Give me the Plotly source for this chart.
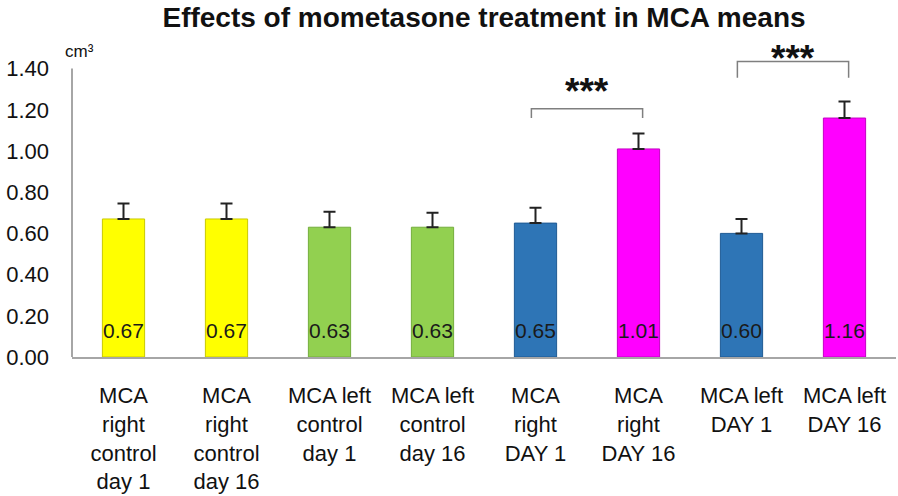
import plotly.graph_objects as go

categories = [
    "MCA<br>right<br>control<br>day 1",
    "MCA<br>right<br>control<br>day 16",
    "MCA left<br>control<br>day 1",
    "MCA left<br>control<br>day 16",
    "MCA<br>right<br>DAY 1",
    "MCA<br>right<br>DAY 16",
    "MCA left<br>DAY 1",
    "MCA left<br>DAY 16",
]
values = [0.67, 0.67, 0.63, 0.63, 0.65, 1.01, 0.60, 1.16]
errors = [0.075, 0.075, 0.075, 0.07, 0.075, 0.075, 0.07, 0.08]
colors = ["#ffff00", "#ffff00", "#92d050", "#92d050", "#2e75b6", "#ff00ff", "#2e75b6", "#ff00ff"]
edge_colors = ["#c9c900", "#c9c900", "#74ad3c", "#74ad3c", "#1f5a94", "#c400c4", "#1f5a94", "#c400c4"]
y_ticks = [0.0, 0.2, 0.4, 0.6, 0.8, 1.0, 1.2, 1.4]

# significance brackets: (left index, right index, bar height, leg length, star height, label)
brackets = [(4, 5, 1.205, 0.045, 1.319, "***"), (6, 7, 1.434, 0.078, 1.479, "***")]
label_y = 0.116

FONT = "Arial, Liberation Sans"
x_idx = list(range(len(categories)))

fig = go.Figure()
fig.add_trace(go.Bar(
    x=x_idx, y=values,
    marker=dict(color=colors, line=dict(color=edge_colors, width=1)),
    error_y=dict(type="data", array=errors, symmetric=False, arrayminus=[0] * len(values),
                 color="#222222", thickness=2, width=6),
    width=0.41,
    hoverinfo="skip",
))
fig.add_trace(go.Scatter(
    x=x_idx, y=[label_y] * len(values), mode="text",
    text=[f"{v:.2f}" for v in values],
    textfont=dict(family=FONT, size=21, color="#1a1a1a"),
    hoverinfo="skip",
))

shapes = [dict(type="line", xref="paper", yref="y", x0=0, x1=0, y0=0, y1=y_ticks[-1],
               line=dict(color="#a6a6a6", width=2))]
annotations = []
for a, b, h, leg, sy, lab in brackets:
    xa, xb = a - 0.04, b + 0.04
    shapes.append(dict(type="path", xref="x", yref="y",
                       path=f"M {xa} {h - leg} L {xa} {h} L {xb} {h} L {xb} {h - leg}",
                       line=dict(color="#7f7f7f", width=1.5)))
    annotations.append(dict(x=(a + b) / 2, y=sy, xref="x", yref="y", text=f"<b>{lab}</b>",
                            showarrow=False, yanchor="middle", yshift=-6,
                            font=dict(family=FONT, size=37, color="#111111")))
annotations.append(dict(x=-0.011, y=305 / 309, xref="paper", yref="paper", text="cm³",
                        showarrow=False, xanchor="left", yanchor="middle",
                        font=dict(family=FONT, size=17, color="#111111")))

fig.update_layout(
    width=898, height=496,
    margin=dict(l=72, r=2, t=48, b=139),
    paper_bgcolor="white", plot_bgcolor="white",
    showlegend=False,
    title=dict(text="<b>Effects of mometasone treatment in MCA means</b>",
               x=0.539, xanchor="center", y=0.966, yanchor="middle",
               font=dict(family=FONT, size=28, color="#111111")),
    xaxis=dict(tickmode="array", tickvals=x_idx, ticktext=categories, range=[-0.5, 7.5],
               showline=True, linecolor="#a6a6a6", linewidth=2, showgrid=False, zeroline=False,
               ticks="", ticklabelstandoff=18,
               tickfont=dict(family=FONT, size=22, color="#111111")),
    yaxis=dict(range=[0, 1.5], tickmode="array", tickvals=y_ticks,
               ticktext=[f"{t:.2f}" for t in y_ticks],
               showline=False, showgrid=False, zeroline=False, ticks="", ticklabelstandoff=22,
               tickfont=dict(family=FONT, size=22, color="#111111")),
    shapes=shapes, annotations=annotations,
)
fig.write_html("out.html", config={"displayModeBar": False},
               post_script="document.body.style.margin='0px';")
